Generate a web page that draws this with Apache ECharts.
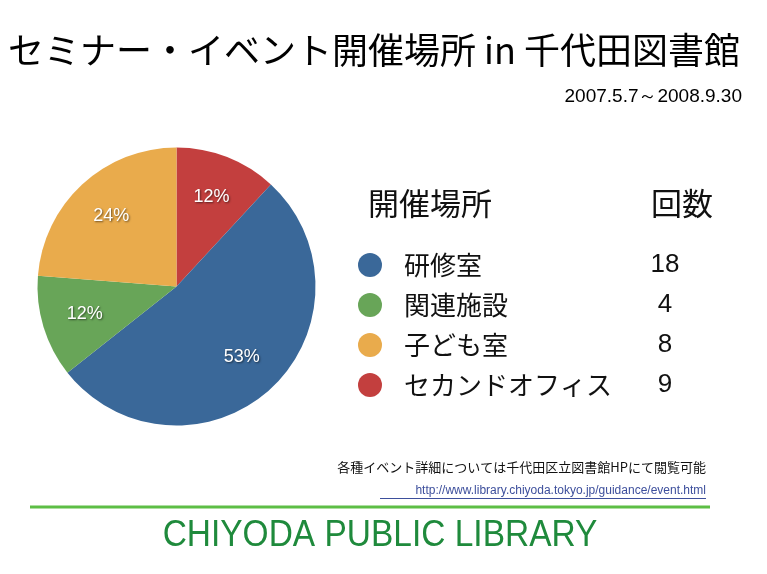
<!DOCTYPE html>
<html>
<head>
<meta charset="utf-8">
<title>セミナー・イベント開催場所 in 千代田図書館</title>
<script src="https://cdn.jsdelivr.net/npm/echarts@6/dist/echarts.min.js"></script>
<style>
  html, body { margin: 0; padding: 0; background: #fff; }
  #main { width: 767px; height: 574px; }
</style>
</head>
<body>
<div id="main"></div>
<script>
// 凡例の並び（研修室 → セカンドオフィス）
var places = ['研修室', '関連施設', '子ども室', 'セカンドオフィス'];
var counts = [18, 4, 8, 9];
// 円グラフに表示されている割合（%）
var percents = [53, 12, 24, 12];
var colors = ['#3a6899', '#68a558', '#e9ab4c', '#c33f3e'];

// 円は12時の位置からセカンドオフィス→研修室→関連施設→子ども室の順
var pieOrder = [3, 0, 1, 2];

var CJK = '"Noto Sans CJK JP", "Noto Sans", sans-serif';
var LAT = '"Liberation Sans", Arial, sans-serif';

var pieData = pieOrder.map(function (i) {
  return { name: places[i], value: percents[i], itemStyle: { color: colors[i] } };
});

var chart = echarts.init(document.getElementById('main'), null, { renderer: 'canvas' });

var option = {
  backgroundColor: '#fff',
  animation: false,
  legend: {
    orient: 'vertical',
    left: 353,
    top: 247,
    icon: 'circle',
    itemWidth: 24,
    itemHeight: 24,
    itemGap: 14,
    selectedMode: false,
    data: places,
    formatter: function (name) {
      return '{n|' + name + '}{c|' + counts[places.indexOf(name)] + '}';
    },
    textStyle: {
      fontFamily: CJK,
      fontSize: 26,
      color: '#111',
      lineHeight: 24,
      rich: {
        n: { fontFamily: CJK, fontSize: 26, color: '#111', width: 241, padding: [0, 0, 0, 17], lineHeight: 24 },
        c: { fontFamily: LAT, fontSize: 26, color: '#111', width: 40, align: 'center', lineHeight: 24 }
      }
    }
  },
  series: [
    {
      type: 'pie',
      center: [176.5, 286.5],
      radius: [0, 139],
      startAngle: 90,
      clockwise: true,
      silent: true,
      label: { show: false },
      labelLine: { show: false },
      data: pieData
    },
    {
      // 割合ラベルだけを置く透明な円（ラベルを半径の2/3付近に配置するため）
      type: 'pie',
      center: [176.5, 286.5],
      radius: [0, 186],
      startAngle: 90,
      clockwise: true,
      silent: true,
      itemStyle: { color: 'rgba(0,0,0,0)' },
      label: {
        show: true,
        position: 'inside',
        formatter: '{c}%',
        fontFamily: LAT,
        fontSize: 18,
        color: '#fff',
        textShadowColor: 'rgba(0,0,0,0.55)',
        textShadowBlur: 2,
        textShadowOffsetX: 1,
        textShadowOffsetY: 1
      },
      labelLine: { show: false },
      data: pieData.map(function (d) {
        return { name: d.name, value: d.value, itemStyle: { color: 'rgba(0,0,0,0)' } };
      })
    }
  ],
  graphic: [
    {
      type: 'text', x: 8, y: 50,
      style: { text: 'セミナー・イベント開催場所 in 千代田図書館', font: '36px ' + CJK, fill: '#000', align: 'left', verticalAlign: 'middle' }
    },
    {
      type: 'text', x: 742, y: 97,
      style: { text: '2007.5.7～2008.9.30', font: '19px ' + LAT, fill: '#000', align: 'right', verticalAlign: 'middle' }
    },
    {
      type: 'text', x: 368, y: 203,
      style: { text: '開催場所', font: '31px ' + CJK, fill: '#111', align: 'left', verticalAlign: 'middle' }
    },
    {
      type: 'text', x: 682, y: 203,
      style: { text: '回数', font: '31px ' + CJK, fill: '#111', align: 'center', verticalAlign: 'middle' }
    },
    {
      type: 'text', x: 706, y: 467,
      style: { text: '各種イベント詳細については千代田区立図書館HPにて閲覧可能', font: '13px ' + CJK, fill: '#111', align: 'right', verticalAlign: 'middle' }
    },
    {
      type: 'text', x: 706, y: 491,
      style: { text: 'http://www.library.chiyoda.tokyo.jp/guidance/event.html', font: '12px ' + LAT, fill: '#3d4f9c', align: 'right', verticalAlign: 'middle' }
    },
    {
      type: 'line',
      shape: { x1: 380, y1: 498.5, x2: 706, y2: 498.5 },
      style: { stroke: '#3d4f9c', lineWidth: 1 }
    },
    {
      type: 'line',
      shape: { x1: 30, y1: 507, x2: 710, y2: 507 },
      style: { stroke: '#5dbe45', lineWidth: 3 }
    },
    {
      type: 'text', x: 380, y: 536, scaleX: 0.93,
      style: { text: 'CHIYODA PUBLIC LIBRARY', font: '36px ' + LAT, fill: '#1f8a3c', align: 'center', verticalAlign: 'middle' }
    }
  ]
};

chart.setOption(option);
</script>
</body>
</html>
